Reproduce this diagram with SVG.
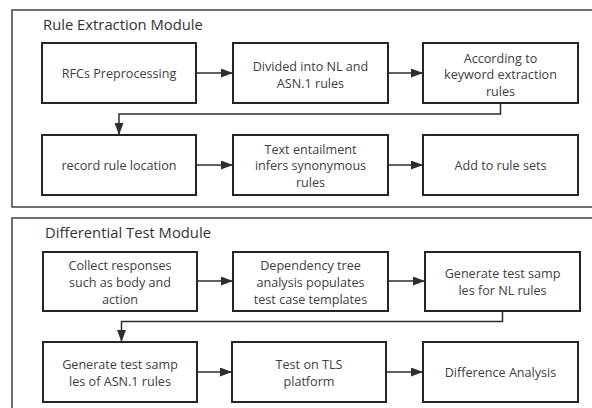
<svg xmlns="http://www.w3.org/2000/svg" width="592" height="408" viewBox="0 0 592 408">
<defs>
<marker id="ah" viewBox="0 0 12 9" refX="12" refY="4.5" markerWidth="12" markerHeight="9" markerUnits="userSpaceOnUse" orient="auto">
<path d="M0,0 L12,4.5 L0,9 Z" fill="#2b2f33"/>
</marker>
<style>
.mod{fill:none;stroke:#3a4148;stroke-width:1.5}
.box{fill:#fff;stroke:#1f262c;stroke-width:2}
.t{font-family:"Open Sans","Noto Sans",sans-serif;font-size:12.6px;fill:#404040;text-anchor:middle}
.title{font-family:"Open Sans","Noto Sans",sans-serif;font-size:14.8px;fill:#333}
.c{fill:none;stroke:#2b2f33;stroke-width:1.5}
</style>
</defs>
<rect width="592" height="408" fill="#fff"/>
<g id="module-rule-extraction">
<rect class="mod" x="12" y="10" width="600" height="197"/>
<text class="title" x="43" y="30">Rule Extraction Module</text>
</g>
<g id="module-differential-test">
<rect class="mod" x="12" y="218" width="600" height="210"/>
<text class="title" x="45" y="238">Differential Test Module</text>
</g>
<g id="connectors">
<line class="c" x1="196" y1="73" x2="233" y2="73" marker-end="url(#ah)"/>
<line class="c" x1="388" y1="73" x2="423" y2="73" marker-end="url(#ah)"/>
<polyline class="c" points="500.5,103 500.5,114 119,114 119,135" marker-end="url(#ah)"/>
<line class="c" x1="196" y1="165" x2="233" y2="165" marker-end="url(#ah)"/>
<line class="c" x1="388" y1="165" x2="423" y2="165" marker-end="url(#ah)"/>
<line class="c" x1="197" y1="281" x2="233" y2="281" marker-end="url(#ah)"/>
<line class="c" x1="388" y1="281" x2="425" y2="281" marker-end="url(#ah)"/>
<polyline class="c" points="502.5,311 502.5,321.5 121.5,321.5 121.5,342" marker-end="url(#ah)"/>
<line class="c" x1="197" y1="372" x2="232" y2="372" marker-end="url(#ah)"/>
<line class="c" x1="386" y1="372" x2="423" y2="372" marker-end="url(#ah)"/>
</g>
<g id="n1"><rect class="box" x="42" y="43" width="154" height="60"/><text class="t" x="119" y="77.5">RFCs Preprocessing</text></g>
<g id="n2"><rect class="box" x="233" y="43" width="155" height="60"/><text class="t" x="310.5" y="71">Divided into NL and</text><text class="t" x="310.5" y="87.5">ASN.1 rules</text></g>
<g id="n3"><rect class="box" x="423" y="43" width="155" height="60"/><text class="t" x="500.5" y="62.5">According to</text><text class="t" x="500.5" y="79">keyword extraction</text><text class="t" x="500.5" y="95.5">rules</text></g>
<g id="n4"><rect class="box" x="42" y="135" width="154" height="60"/><text class="t" x="119" y="169.5">record rule location</text></g>
<g id="n5"><rect class="box" x="233" y="135" width="155" height="60"/><text class="t" x="310.5" y="153.5">Text entailment</text><text class="t" x="310.5" y="170">infers synonymous</text><text class="t" x="310.5" y="186.5">rules</text></g>
<g id="n6"><rect class="box" x="423" y="135" width="155" height="60"/><text class="t" x="500.5" y="169.5">Add to rule sets</text></g>
<g id="n7"><rect class="box" x="43" y="252" width="154" height="59"/><text class="t" x="120" y="269.5">Collect responses</text><text class="t" x="120" y="286.5">such as body and</text><text class="t" x="120" y="303.5">action</text></g>
<g id="n8"><rect class="box" x="233" y="252" width="155" height="59"/><text class="t" x="310.5" y="269.5">Dependency tree</text><text class="t" x="310.5" y="286.5">analysis populates</text><text class="t" x="310.5" y="303.5">test case templates</text></g>
<g id="n9"><rect class="box" x="425" y="252" width="155" height="59"/><text class="t" x="502.5" y="277.5">Generate test samp</text><text class="t" x="502.5" y="294.5">les for NL rules</text></g>
<g id="n10"><rect class="box" x="43" y="342" width="154" height="60"/><text class="t" x="120" y="368.5">Generate test samp</text><text class="t" x="120" y="385.5">les of ASN.1 rules</text></g>
<g id="n11"><rect class="box" x="232" y="342" width="154" height="60"/><text class="t" x="309" y="368.5">Test on TLS</text><text class="t" x="309" y="385.5">platform</text></g>
<g id="n12"><rect class="box" x="423" y="342" width="155" height="60"/><text class="t" x="500.5" y="376.5">Difference Analysis</text></g>
</svg>
